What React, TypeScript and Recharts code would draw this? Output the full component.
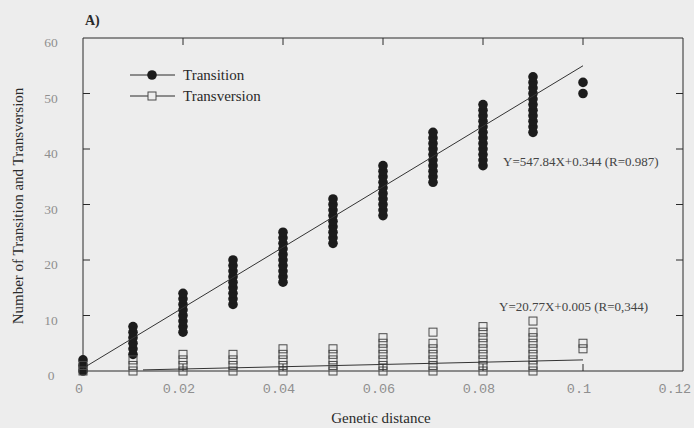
import React from 'react';
import { ScatterChart, Scatter, XAxis, YAxis } from 'recharts';

// genetic distance classes (x) and the counts stacked at each of them
const distances = [0, 0.01, 0.02, 0.03, 0.04, 0.05, 0.06, 0.07, 0.08, 0.09, 0.1];

const transitionCounts = [
  [0, 1, 2],
  [3, 4, 5, 6, 7, 8],
  [7, 8, 9, 10, 11, 12, 13, 14],
  [12, 13, 14, 15, 16, 17, 18, 19, 20],
  [16, 17, 18, 19, 20, 21, 22, 23, 24, 25],
  [23, 24, 25, 26, 27, 28, 29, 30, 31],
  [28, 29, 30, 31, 32, 33, 34, 35, 36, 37],
  [34, 35, 36, 37, 38, 39, 40, 41, 42, 43],
  [37, 38, 39, 40, 41, 42, 43, 44, 45, 46, 47, 48],
  [43, 44, 45, 46, 47, 48, 49, 50, 51, 52, 53],
  [50, 52],
];

const transversionCounts = [
  [0, 1],
  [0, 1, 2],
  [0, 1, 2, 3],
  [0, 1, 2, 3],
  [0, 1, 2, 3, 4],
  [0, 1, 2, 3, 4],
  [0, 1, 2, 3, 4, 5, 6],
  [0, 1, 2, 3, 4, 5, 7],
  [0, 1, 2, 3, 4, 5, 6, 7, 8],
  [0, 1, 2, 3, 4, 5, 6, 7, 9],
  [4, 5],
];

// fitted lines, end points
const transitionFit = [{ x: 0, y: 0.5 }, { x: 0.1, y: 55 }];
const transversionFit = [{ x: 0.012, y: 0.2 }, { x: 0.1, y: 2 }];

const xTicks = [0, 0.02, 0.04, 0.06, 0.08, 0.1, 0.12];
const xTickLabels = ['0', '0.02', '0.04', '0.06', '0.08', '0.1', '0.12'];
const yTicks = [0, 10, 20, 30, 40, 50, 60];

const transitionEq = 'Y=547.84X+0.344 (R=0.987)';
const transversionEq = 'Y=20.77X+0.005 (R=0,344)';

const transitionPts = distances.flatMap((d, i) => transitionCounts[i].map(c => ({ x: d, y: c })));
const transversionPts = distances.flatMap((d, i) => transversionCounts[i].map(c => ({ x: d, y: c })));

const INK = '#2a2a2a';
const GREY = '#8f8f8f';
const SERIF = "'Liberation Serif', 'Times New Roman', serif";

const Dot = (p: any) => <circle cx={p.cx} cy={p.cy} r={4.8} fill="#1c1c1c" />;
const Box = (p: any) => (
  <rect x={p.cx - 4} y={p.cy - 4} width={8} height={8} fill="none" stroke="#4a4a4a" strokeWidth={1} />
);
const Nothing = () => <g />;

const isInner = (v: number, lo: number, hi: number) => v > lo && v < hi;

const BottomTick = (p: any) => {
  const v = p.payload.value;
  const i = xTicks.indexOf(v);
  const last = i === xTicks.length - 1;
  return (
    <g>
      {isInner(v, 0, 0.12) && <line x1={p.x} x2={p.x} y1={p.y} y2={p.y - 7} stroke={INK} />}
      <text
        x={last ? 691 : p.x - 4} y={p.y + 22} textAnchor={last ? 'end' : 'middle'}
        fontFamily="'Liberation Mono', monospace" fontSize={13.5} fill={GREY}
      >
        {xTickLabels[i]}
      </text>
    </g>
  );
};

const TopTick = (p: any) =>
  isInner(p.payload.value, 0, 0.12) ? <line x1={p.x} x2={p.x} y1={p.y} y2={p.y + 7} stroke={INK} /> : <g />;

const LeftTick = (p: any) => (
  <g>
    {isInner(p.payload.value, 0, 60) && <line x1={p.x} x2={p.x + 7} y1={p.y} y2={p.y} stroke={INK} />}
    <text x={p.x - 32} y={p.y + 9} textAnchor="middle" fontFamily={SERIF} fontSize={13.5} fill={GREY}>
      {p.payload.value}
    </text>
  </g>
);

const RightTick = (p: any) =>
  isInner(p.payload.value, 0, 60) ? <line x1={p.x} x2={p.x - 7} y1={p.y} y2={p.y} stroke={INK} /> : <g />;

export default function App() {
  return (
    <div style={{ position: 'absolute', left: 0, top: 0, width: 694, height: 428, background: '#ededed' }}>
      <ScatterChart width={694} height={428} margin={{ top: 37, right: 10, left: 0, bottom: 0 }}>
        <XAxis
          type="number" dataKey="x" domain={[0, 0.12]} ticks={xTicks} interval={0}
          height={57} tickSize={0} tickMargin={0} tick={BottomTick} axisLine={{ stroke: INK }}
        />
        <XAxis
          xAxisId="top" orientation="top" type="number" dataKey="x" domain={[0, 0.12]} ticks={xTicks}
          interval={0} height={1} tickSize={0} tickMargin={0} tick={TopTick} axisLine={{ stroke: INK }}
        />
        <YAxis
          type="number" dataKey="y" domain={[0, 60]} ticks={yTicks} interval={0}
          width={83} tickSize={0} tickMargin={0} tick={LeftTick} axisLine={{ stroke: INK }}
        />
        <YAxis
          yAxisId="right" orientation="right" type="number" dataKey="y" domain={[0, 60]} ticks={yTicks}
          interval={0} width={1} tickSize={0} tickMargin={0} tick={RightTick} axisLine={{ stroke: INK }}
        />
        <Scatter data={transitionPts} shape={Dot} isAnimationActive={false} />
        <Scatter data={transversionPts} shape={Box} isAnimationActive={false} />
        <Scatter
          data={transitionFit} xAxisId="top" yAxisId="right" shape={Nothing}
          line={{ stroke: '#333', strokeWidth: 1 }} isAnimationActive={false}
        />
        <Scatter
          data={transversionFit} xAxisId="top" yAxisId="right" shape={Nothing}
          line={{ stroke: '#333', strokeWidth: 1 }} isAnimationActive={false}
        />
      </ScatterChart>

      <svg width={694} height={428} style={{ position: 'absolute', left: 0, top: 0, pointerEvents: 'none' }}>
        <g fontFamily={SERIF} fill={INK}>
          <text x={85} y={25} fontSize={14} fontWeight="bold">A)</text>

          <line x1={130} x2={175} y1={75} y2={75} stroke={INK} />
          <circle cx={152} cy={75} r={4.8} fill="#1c1c1c" />
          <text x={183} y={80} fontSize={15}>Transition</text>
          <line x1={130} x2={175} y1={96} y2={96} stroke={INK} />
          <rect x={148} y={92} width={8} height={8} fill="#ededed" stroke="#4a4a4a" />
          <text x={183} y={101} fontSize={15}>Transversion</text>

          <text x={503} y={166} fontSize={13} fill="#444">{transitionEq}</text>
          <text x={499} y={311} fontSize={13} fill="#444">{transversionEq}</text>

          <text x={381} y={423} fontSize={15} textAnchor="middle">Genetic distance</text>
          <text x={18} y={206} fontSize={15} textAnchor="middle" dominantBaseline="central" transform="rotate(-90 18 206)">
            Number of Transition and Transversion
          </text>
        </g>
      </svg>
    </div>
  );
}
